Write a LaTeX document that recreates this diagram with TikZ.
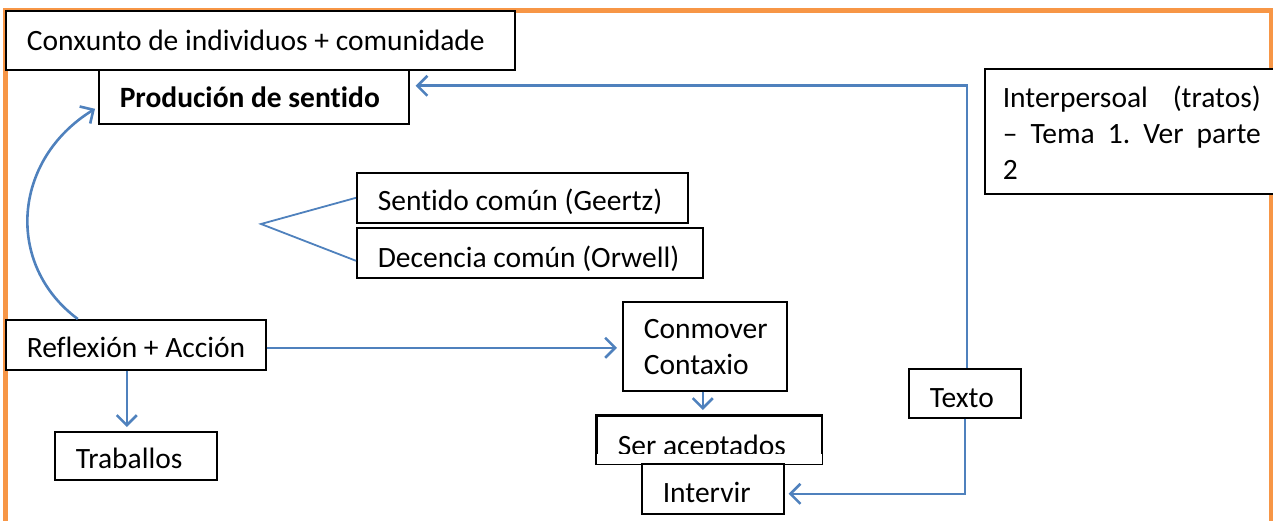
\documentclass[tikz,border=0pt]{standalone}
\usepackage{fontspec}
\setmainfont{Carlito}[Ligatures=NoCommon]
\usepackage{tikz}
\usetikzlibrary{arrows.meta,positioning,calc}
\definecolor{azul}{HTML}{4F81BD}
\definecolor{laranxa}{HTML}{F79646}
\frenchspacing
\tikzset{
  caixa/.style={draw=black, line width=1.6pt, fill=white, anchor=north west, inner sep=0pt,
    align=flush left, font=\fontsize{29.5}{36}\selectfont, execute at begin node={\leftskip=21pt}},
  frecha/.style={draw=azul, line width=2.6pt, -{Straight Barb[length=10pt,width=20pt]}},
  trazo/.style={draw=azul, line width=1.8pt},
}
\begin{document}
\begin{tikzpicture}[x=1pt,y=-1pt]
    \useasboundingbox (0,0) rectangle (1273,521);
    \draw [laranxa,line width=5pt] (5.8,525) -- (5.8,10.5) -- (1271,10.5) -- (1271,525);

    \node [caixa,text width=509pt,text height=40pt,text depth=19pt] (conxunto) at (5,10) {Conxunto de individuos + comunidade};
    \node [caixa,text width=310pt,text height=38pt,text depth=16pt,font=\fontsize{29.5}{36}\selectfont\bfseries] (producion) at (98,69) {Produción de sentido};
    \node [caixa,text width=331pt,text height=38pt,text depth=12pt] (sentido) at (356,172) {Sentido común (Geertz)};
    \node [caixa,text width=346pt,text height=40pt,text depth=10pt] (decencia) at (356,227) {Decencia común (Orwell)};
    \node [caixa,text width=292pt,text height=39pt,text depth=86pt,align=justify,
      execute at begin node={\leftskip=18pt\rightskip=16pt}] (interpersoal) at (984,68) {Interpersoal\ \ (tratos)\linebreak – Tema 1. Ver parte\linebreak 2};
    \node [caixa,text width=260pt,text height=38pt,text depth=12pt] (reflexion) at (5,319) {Reflexión + Acción};
    \node [caixa,text width=162pt,text height=37pt,text depth=11pt] (traballos) at (54,431) {Traballos};
    \node [caixa,text width=164pt,text height=37pt,text depth=52pt] (conmover) at (622,301) {Conmover\\Contaxio};
    \begin{scope}
      \clip (590,410) rectangle (830,453);
      \node [caixa,text width=225pt,text height=40pt,text depth=8pt] (ser) at (596,415) {Ser aceptados};
    \end{scope}
    \draw [line width=1.6pt] (ser.north west) rectangle (ser.south east);
    \node [caixa,text width=142pt,text height=39pt,text depth=11pt] (intervir) at (641,463) {Intervir};
    \node [caixa,text width=112pt,text height=39pt,text depth=10pt] (texto) at (908,368) {Texto};

    \coordinate (vertice) at (261,224);
    \draw [trazo] (sentido.west) -- (vertice) -- ([yshift=-8pt]decencia.west);

    \draw [frecha] ([xshift=2pt]texto.north) |- ([xshift=6pt,yshift=11pt]producion.east);
    \draw [frecha] (texto.south) |- ([xshift=4pt,yshift=-5pt]intervir.east);
    \draw [frecha] ([yshift=-3pt]reflexion.east) -- ([xshift=-5pt,yshift=-1.5pt]conmover.west);
    \draw [frecha] ([xshift=-9pt]reflexion.south) -- ([xshift=-9pt,yshift=4pt]traballos.north);
    \draw [frecha] ([xshift=-2pt]conmover.south) -- ([xshift=-6.5pt,yshift=5pt]ser.north);
    \draw [frecha] ([xshift=-58pt]reflexion.north) .. controls (5,265) and (12,160) .. ([xshift=-3pt,yshift=-12pt]producion.west);
  \end{tikzpicture}
\end{document}
